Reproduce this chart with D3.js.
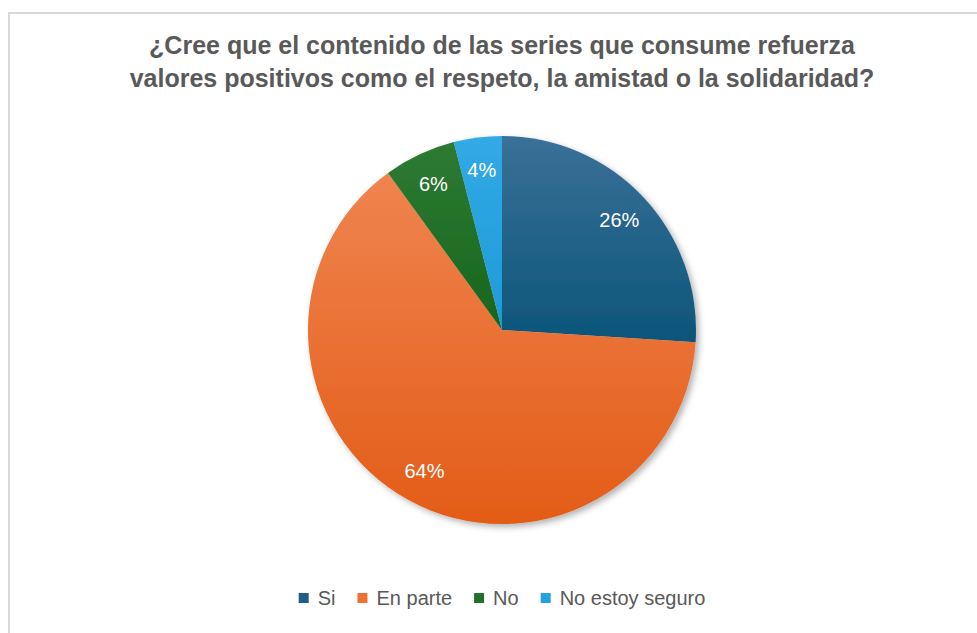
<!DOCTYPE html>
<meta charset="utf-8">
<style>
  body { margin: 0; background: #fff; }
  .title { font: bold 25px "Liberation Sans", Arial, sans-serif; fill: #595959; text-anchor: middle; }
  .pct { font: 20px "Liberation Sans", Arial, sans-serif; fill: #fff; text-anchor: middle; }
  .legend text { font: 20px "Liberation Sans", Arial, sans-serif; fill: #595959; }
</style>
<svg width="977" height="633"></svg>
<script src="https://cdn.jsdelivr.net/npm/d3@7"></script>
<script>
  const categories = ["Si", "En parte", "No", "No estoy seguro"];
  const values = [26, 64, 6, 4];
  const topColors = ["#3a7098", "#f0844f", "#2e7a34", "#32aae6"];
  const bottomColors = ["#0c5579", "#e35c17", "#17661d", "#1d9ad8"];
  const legendColors = ["#1f5f85", "#ef7132", "#237028", "#23a0de"];
  const titleLines = [
    "¿Cree que el contenido de las series que consume refuerza",
    "valores positivos como el respeto, la amistad o la solidaridad?"
  ];

  const svg = d3.select("svg");
  const cx = 502, cy = 330, r = 194;

  // chart area border
  svg.append("rect")
    .attr("x", 9).attr("y", 13)
    .attr("width", 1000).attr("height", 700)
    .attr("fill", "#fff")
    .attr("stroke", "#d9d9d9")
    .attr("stroke-width", 2);

  svg.selectAll(".title")
    .data(titleLines)
    .enter()
    .append("text")
    .attr("class", "title")
    .attr("x", cx)
    .attr("y", (d, i) => 54 + i * 33)
    .text(d => d);

  const defs = svg.append("defs");
  const shadow = defs.append("filter").attr("id", "shadow")
    .attr("x", "-10%").attr("y", "-10%").attr("width", "125%").attr("height", "125%");
  shadow.append("feDropShadow")
    .attr("dx", 3).attr("dy", 3).attr("stdDeviation", 3)
    .attr("flood-color", "#000").attr("flood-opacity", 0.3);

  categories.forEach((c, i) => {
    const g = defs.append("linearGradient").attr("id", "grad" + i)
      .attr("x1", 0).attr("y1", 0).attr("x2", 0).attr("y2", 1);
    g.append("stop").attr("offset", "0%").attr("stop-color", topColors[i]);
    g.append("stop").attr("offset", "100%").attr("stop-color", bottomColors[i]);
  });

  const pie = d3.pie().sort(null).value(d => d);
  const arcs = pie(values);
  const arc = d3.arc().innerRadius(0).outerRadius(r);
  const labelArc = d3.arc().innerRadius(r * 0.83).outerRadius(r * 0.83);

  const gPie = svg.append("g")
    .attr("transform", "translate(" + cx + "," + cy + ")");

  gPie.append("g")
    .attr("filter", "url(#shadow)")
    .selectAll("path")
    .data(arcs)
    .enter()
    .append("path")
    .attr("d", arc)
    .attr("fill", (d, i) => "url(#grad" + i + ")");

  gPie.selectAll(".pct")
    .data(arcs)
    .enter()
    .append("text")
    .attr("class", "pct")
    .attr("transform", d => "translate(" + labelArc.centroid(d) + ")")
    .attr("dy", "0.35em")
    .text(d => Math.round(d.value) + "%");

  // legend, centred under the pie
  const legend = svg.append("g").attr("class", "legend");
  const items = legend.selectAll("g")
    .data(categories)
    .enter()
    .append("g");
  items.append("rect")
    .attr("width", 10).attr("height", 10)
    .attr("y", -12)
    .attr("fill", (d, i) => legendColors[i]);
  items.append("text")
    .attr("x", 19)
    .text(d => d);

  let xPos = 0;
  items.each(function() {
    const w = 19 + d3.select(this).select("text").node().getComputedTextLength();
    d3.select(this).attr("transform", "translate(" + xPos + ",0)");
    xPos += w + 22;
  });
  const total = xPos - 22;
  legend.attr("transform", "translate(" + (cx - total / 2) + ",605)");
</script>
